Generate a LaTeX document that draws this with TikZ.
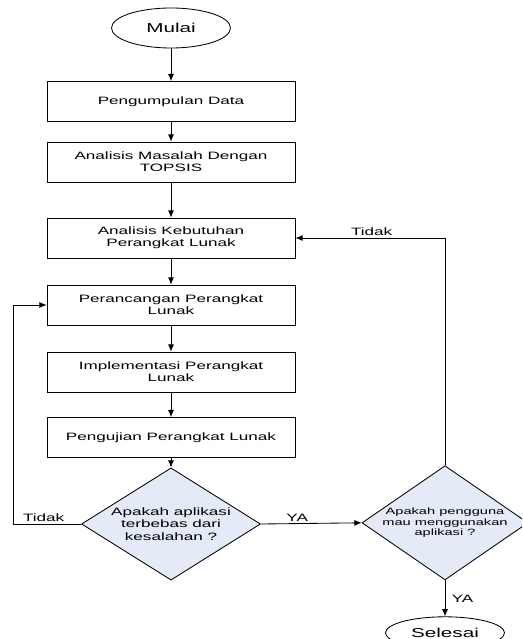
\documentclass[tikz,border=0pt]{standalone}
\usepackage{fontspec}
\setmainfont{Liberation Sans}[FakeStretch=1.6]
\usepackage{tikz}
\usetikzlibrary{positioning, shapes.geometric, arrows.meta}
\definecolor{decfill}{RGB}{228,234,246}
\tikzset{
    base/.style={draw, line width=0.6pt, align=center, font=\fontsize{7.6}{8.75}\selectfont},
    procbox/.style={base, rectangle, minimum width=6.2cm, minimum height=1cm},
    terminal/.style={base, ellipse, inner sep=0pt, minimum width=2.975cm, font=\fontsize{9.2}{11}\selectfont},
    decision/.style={base, diamond, fill=decfill, inner xsep=-0.5cm, inner ysep=0pt},
    arrow/.style={-{Latex[length=1.8mm, width=1.5mm]}, line width=0.6pt},
    lbl/.style={font=\fontsize{7.6}{8.75}\selectfont, inner sep=1.5pt}
}

\begin{document}
\begin{tikzpicture}
    \useasboundingbox (0,0) rectangle (13.05,-15.975);
    \clip (0,0) rectangle (13.05,-15.975);

    % Start
    \node[terminal, minimum height=1cm] (mulai) at (4.275, -0.7) {Mulai};

    % Process steps
    \node[procbox] (data) at (4.275, -2.54) {Pengumpulan Data};
    \node[procbox] (topsis) at (4.275, -4.05) {Analisis Masalah Dengan\\TOPSIS};
    \node[procbox] (kebutuhan) at (4.275, -5.95) {Analisis Kebutuhan\\Perangkat Lunak};
    \node[procbox] (rancang) at (4.275, -7.625) {Perancangan Perangkat\\Lunak};
    \node[procbox] (implementasi) at (4.275, -9.3) {Implementasi Perangkat\\Lunak};
    \node[procbox] (uji) at (4.275, -10.94) {Pengujian Perangkat Lunak};

    % Decisions
    \node[decision, minimum width=4.475cm, minimum height=2.075cm] (bebas) at (4.275, -13.1) {Apakah aplikasi\\terbebas dari\\kesalahan ?};
    \node[decision, minimum width=4.15cm, minimum height=2.05cm, font=\fontsize{6.5}{7.3}\selectfont] (guna) at (11.125, -13.07) {Apakah pengguna\\mau menggunakan\\aplikasi ?};

    % End
    \node[terminal, minimum height=0.8cm] (selesai) at (11.125, -15.82) {Selesai};

    % Main flow
    \draw[arrow] (mulai) -- (data);
    \draw[arrow] (data) -- (topsis);
    \draw[arrow] (topsis) -- (kebutuhan);
    \draw[arrow] (kebutuhan) -- (rancang);
    \draw[arrow] (rancang) -- (implementasi);
    \draw[arrow] (implementasi) -- (uji);
    \draw[arrow] (uji) -- (bebas);
    \draw[arrow] (bebas.east) -- node[lbl, pos=0.36, above] {YA} (guna.west);
    \draw[arrow] (guna.south) -- node[lbl, right=3pt] {YA} (selesai.north);

    % Loops back
    \coordinate (kiri) at (0.325, -13.1);
    \draw[arrow] (bebas.west) -- node[lbl, pos=0.55, above] {Tidak} (kiri) |- (rancang.west);
    \draw[arrow] (guna.north) |- node[lbl, pos=0.745, above] {Tidak} (kebutuhan.east);
\end{tikzpicture}
\end{document}
